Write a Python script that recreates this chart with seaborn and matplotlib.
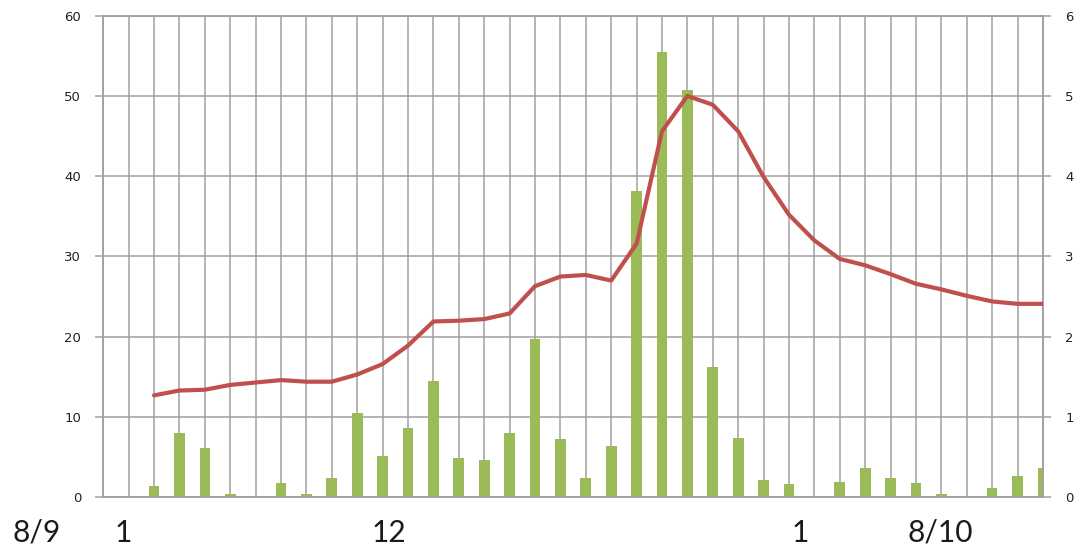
import matplotlib
matplotlib.use("Agg")
import matplotlib.pyplot as plt
import matplotlib.transforms as mtransforms
import seaborn as sns
import pandas as pd

# ---- data ----
bar_index = list(range(38))
bar_values = [0, 0, 1.4, 8.0, 6.2, 0.4, 0, 1.8, 0.4, 2.4,
              10.5, 5.2, 8.6, 14.5, 4.9, 4.7, 8.0, 19.7, 7.3, 2.4,
              6.4, 38.1, 55.5, 50.7, 16.2, 7.4, 2.2, 1.6, 0, 1.9,
              3.6, 2.4, 1.8, 0.4, 0, 1.1, 2.6, 3.6]
line_index = list(range(2, 38))
line_values = [1.27, 1.33, 1.34, 1.40, 1.43, 1.46, 1.44, 1.44, 1.53, 1.66,
               1.89, 2.19, 2.20, 2.22, 2.29, 2.63, 2.75, 2.77, 2.70, 3.16,
               4.56, 5.00, 4.89, 4.56, 3.99, 3.52, 3.20, 2.97, 2.89, 2.78,
               2.66, 2.59, 2.51, 2.44, 2.41, 2.41]
left_ticks = [0, 10, 20, 30, 40, 50, 60]
right_ticks = [0, 1, 2, 3, 4, 5, 6]
time_labels = ["8/9", "1", "12", "1", "8/10"]
time_label_pos = [-2.61, 0.78, 11.25, 27.46, 32.94]

sns.set_style("white")
plt.rcParams['font.family'] = ['DejaVu Sans']

GRID = "#A0A0A0"
fig = plt.figure(figsize=(10.8, 5.56), dpi=100)
ax = fig.add_axes([0.0956, 0.1056, 0.8701, 0.8662])

df_bar = pd.DataFrame({"idx": bar_index, "val": bar_values})
sns.barplot(data=df_bar, x="idx", y="val", order=bar_index, color="#9BBB59",
            saturation=1, width=0.42, ax=ax, zorder=2,
            linewidth=0, edgecolor="none")

ax2 = ax.twinx()
df_line = pd.DataFrame({"idx": line_index, "val": line_values})
sns.lineplot(data=df_line, x="idx", y="val", color="#C0504D", lw=3.0, ax=ax2,
             zorder=3)

ax.set_xlim(0, 37)
ax.set_ylim(0, 60)
ax2.set_ylim(0, 6)
ax.set_xticks(bar_index)
ax.set_xticklabels([])
ax.set_yticks(left_ticks)
ax2.set_yticks(right_ticks)
ax.set_xlabel("")
ax.set_ylabel("")
ax2.set_xlabel("")
ax2.set_ylabel("")

ax.set_axisbelow(True)
ax.grid(True, axis="both", color=GRID, lw=1.1)
ax2.grid(False)
ax.tick_params(axis="x", length=0)
ax.tick_params(axis="y", length=6, width=1.1, color=GRID, pad=10,
               labelsize=9.5, labelcolor="#222222", left=True)
ax2.tick_params(axis="y", length=6, width=1.1, color=GRID, pad=10,
                labelsize=9.5, labelcolor="#222222", right=True)

for a in (ax, ax2):
    for s in a.spines.values():
        s.set_color(GRID)
        s.set_linewidth(1.1)

trans = mtransforms.blended_transform_factory(ax.transData, ax.transAxes)
for lab, xp in zip(time_labels, time_label_pos):
    ax.text(xp, -0.074, lab, transform=trans, ha="center", va="center",
            fontsize=21.5, color="#1a1a1a", family=["Lato", "DejaVu Sans"],
            clip_on=False)

fig.savefig("out.png", dpi=100)
